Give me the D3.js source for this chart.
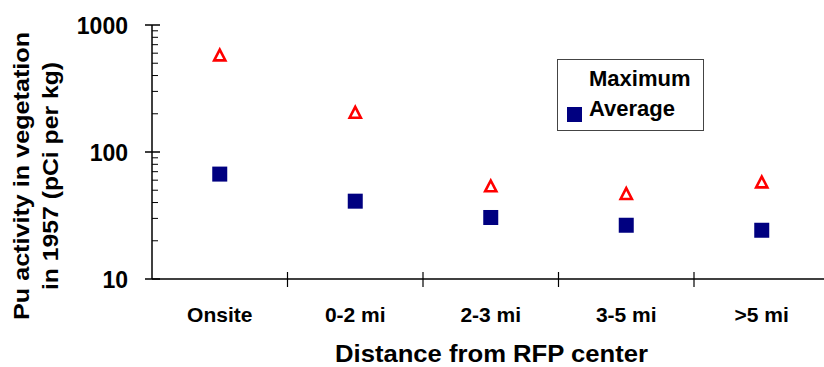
<!DOCTYPE html>
<html>
<head>
<meta charset="utf-8">
<script src="https://cdn.jsdelivr.net/npm/d3@7"></script>
<style>
  body { margin: 0; background: #fff; }
  svg { display: block; font-family: "Liberation Sans", Arial, sans-serif; font-weight: bold; }
</style>
</head>
<body>
<svg class="chart"></svg>
<script>
const W = 824;
const H = 367;

// Data
var categories = ["Onsite", "0-2 mi", "2-3 mi", "3-5 mi", ">5 mi"];
var maximum = [580, 205, 54, 47, 58];
var average = [67, 41, 30.5, 26.5, 24.2];
var yTicks = [10, 100, 1000];

var svg = d3.select(".chart")
    .attr("width", W)
    .attr("height", H);

// Scale (X) categories
var scaleX = d3.scaleBand()
    .domain(categories)
    .range([152, 829.5]);
// Scale (Y) log
var scaleY = d3.scaleLog()
    .domain([10, 1000])
    .range([279, 25]);

var g = svg.append("g");

// Y axis line + ticks
g.append("line")
    .attr("x1", 152).attr("x2", 152)
    .attr("y1", scaleY(1000)).attr("y2", scaleY(10))
    .attr("stroke", "#000").attr("stroke-width", 1.5);

var minor = [];
[10, 100].forEach(function(dec) {
    for (let k = 2; k <= 9; k++) minor.push(dec * k);
});
g.selectAll(".minor").data(minor).enter().append("line")
    .attr("x1", 152).attr("x2", 158)
    .attr("y1", d => scaleY(d)).attr("y2", d => scaleY(d))
    .attr("stroke", "#000").attr("stroke-width", 1);

g.selectAll(".major").data(yTicks).enter().append("line")
    .attr("x1", 145).attr("x2", 160)
    .attr("y1", d => scaleY(d)).attr("y2", d => scaleY(d))
    .attr("stroke", "#000").attr("stroke-width", 1.5);

g.selectAll(".ylab").data(yTicks).enter().append("text")
    .attr("x", 128)
    .attr("y", d => scaleY(d) + 8.5)
    .attr("text-anchor", "end")
    .style("font-size", "23px")
    .text(d => d);

// X axis line + ticks at category boundaries
g.append("line")
    .attr("x1", 152).attr("x2", 830)
    .attr("y1", 279).attr("y2", 279)
    .attr("stroke", "#000").attr("stroke-width", 1.5);

var bounds = categories.map(c => scaleX(c)).concat([scaleX.range()[1]]);
g.selectAll(".xtick").data(bounds.slice(1)).enter().append("line")
    .attr("x1", d => d).attr("x2", d => d)
    .attr("y1", 272).attr("y2", 287)
    .attr("stroke", "#000").attr("stroke-width", 1.2);

g.selectAll(".xlab").data(categories).enter().append("text")
    .attr("x", d => scaleX(d) + scaleX.bandwidth() / 2)
    .attr("y", 322)
    .attr("text-anchor", "middle")
    .style("font-size", "21px")
    .text(d => d);

// Axis titles
svg.append("text")
    .attr("x", 491.5).attr("y", 362)
    .attr("text-anchor", "middle")
    .attr("textLength", 313).attr("lengthAdjust", "spacingAndGlyphs")
    .style("font-size", "23px")
    .text("Distance from RFP center");

var yTitle = svg.append("g").attr("transform", "translate(0,176) rotate(-90)");
yTitle.append("text")
    .attr("x", 0).attr("y", 29)
    .attr("text-anchor", "middle")
    .attr("textLength", 288).attr("lengthAdjust", "spacingAndGlyphs")
    .style("font-size", "22px")
    .text("Pu activity in vegetation");
yTitle.append("text")
    .attr("x", 0).attr("y", 58)
    .attr("text-anchor", "middle")
    .attr("textLength", 228).attr("lengthAdjust", "spacingAndGlyphs")
    .style("font-size", "22px")
    .text("in 1957 (pCi per kg)");

// Markers
var cx = i => scaleX(categories[i]) + scaleX.bandwidth() / 2;
var tri = function(x, y) {
    return "M" + x + "," + (y - 5.5) + "L" + (x + 5.6) + "," + (y + 5.3) +
        "L" + (x - 5.6) + "," + (y + 5.3) + "Z";
};

g.selectAll(".avg").data(average).enter().append("rect")
    .attr("x", (d, i) => cx(i) - 7.5)
    .attr("y", d => scaleY(d) - 7.5)
    .attr("width", 15).attr("height", 15)
    .attr("fill", "#000080");

g.selectAll(".max").data(maximum).enter().append("path")
    .attr("d", (d, i) => tri(cx(i), scaleY(d)))
    .attr("fill", "none")
    .attr("stroke", "#ff0000")
    .attr("stroke-width", 2.6)
    .attr("stroke-linejoin", "miter");

// Legend
var lg = svg.append("g");
lg.append("rect")
    .attr("x", 557.5).attr("y", 59.5)
    .attr("width", 146).attr("height", 71)
    .attr("fill", "#fff")
    .attr("stroke", "#444").attr("stroke-width", 1);
lg.append("text")
    .attr("x", 589).attr("y", 86)
    .style("font-size", "22px")
    .text("Maximum");
lg.append("rect")
    .attr("x", 567).attr("y", 107)
    .attr("width", 15).attr("height", 15)
    .attr("fill", "#000080");
lg.append("text")
    .attr("x", 589).attr("y", 116)
    .style("font-size", "22px")
    .text("Average");
</script>
</body>
</html>
